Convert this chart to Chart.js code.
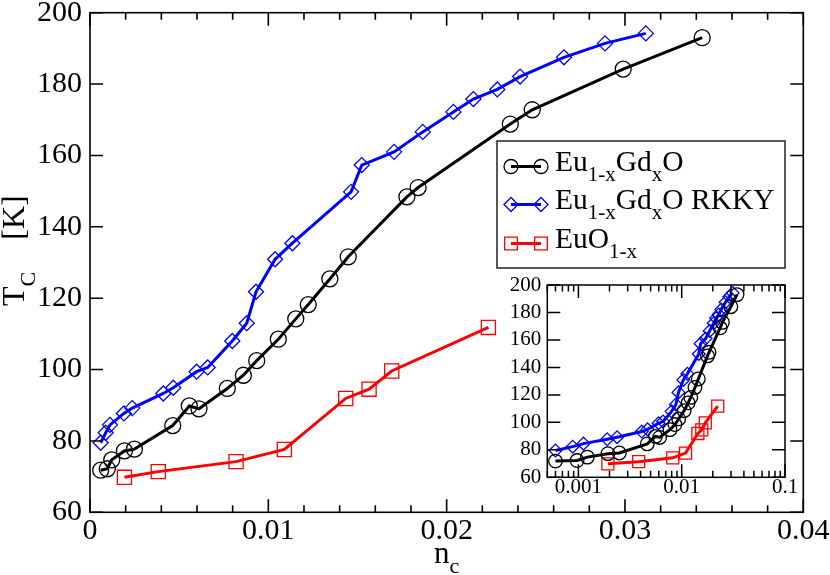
<!DOCTYPE html>
<html><head><meta charset="utf-8">
<script src="https://cdn.jsdelivr.net/npm/chart.js@4.4.1/dist/chart.umd.min.js"></script>
<style>
html,body{margin:0;padding:0;background:#fff;}
#wrap{position:relative;width:830px;height:575px;overflow:hidden;}
#main{position:absolute;left:0;top:0;}
#inset{position:absolute;left:500px;top:270px;}
</style></head><body>
<div id="wrap">
<canvas id="main" width="830" height="575"></canvas>
<canvas id="inset" width="300" height="232"></canvas>
</div>
<script>
// ---------- data ----------
const seriesNames = ['Eu_{1-x}Gd_{x}O', 'Eu_{1-x}Gd_{x}O RKKY', 'EuO_{1-x}'];

const gdN = [0.0006, 0.00097, 0.00122, 0.00193, 0.00249, 0.00464, 0.00557, 0.00611, 0.0077, 0.0086, 0.00935, 0.01056, 0.01154, 0.01224, 0.01345, 0.01448, 0.01777, 0.0184, 0.02357, 0.0248, 0.0299, 0.03433];
const gdT = [71.8, 72.2, 74.7, 77.2, 77.7, 84.3, 89.8, 89.0, 94.7, 98.4, 102.5, 108.5, 114.2, 118.2, 125.4, 131.6, 148.4, 151.0, 168.8, 172.8, 184.2, 193.0];

const rkkyN = [0.0006, 0.00088, 0.00112, 0.0019, 0.00237, 0.00411, 0.00467, 0.00598, 0.0066, 0.00798, 0.00879, 0.00931, 0.01038, 0.01135, 0.01464, 0.01524, 0.01705, 0.01866, 0.02038, 0.0215, 0.02284, 0.02412, 0.02658, 0.02888, 0.03117];
const rkkyT = [79.5, 82.3, 84.5, 87.7, 89.2, 93.3, 94.9, 99.4, 100.6, 108.0, 113.0, 121.8, 130.9, 135.4, 149.8, 157.3, 161.0, 166.6, 172.2, 175.8, 178.5, 182.1, 187.5, 191.4, 194.2];

const euoN = [0.00193, 0.00383, 0.00819, 0.0109, 0.01434, 0.01565, 0.01692, 0.02234];
const euoT = [69.8, 71.4, 74.2, 77.6, 91.9, 94.5, 99.6, 111.8];

const mainXTicks = [0, 0.01, 0.02, 0.03, 0.04];
const mainXLabels = ['0', '0.01', '0.02', '0.03', '0.04'];
const mainYTicks = [60, 80, 100, 120, 140, 160, 180, 200];
const mainYLabels = ['60', '80', '100', '120', '140', '160', '180', '200'];
const insetXTicks = [0.001, 0.01, 0.1];
const insetXLabels = ['0.001', '0.01', '0.1'];
const insetYTicks = [60, 80, 100, 120, 140, 160, 180, 200];
const insetYLabels = ['60', '80', '100', '120', '140', '160', '180', '200'];

const xTitle = 'n_{c}';
const yTitle = 'T_{C}    [K]';

// ---------- styles ----------
const FAM = "'Liberation Serif','Times New Roman',serif";
const colors = ['#000000', '#0000ff', '#ff0000'];
const styles = ['circle', 'rectRot', 'rect'];

function pts(xs, ys) { return xs.map((x, i) => ({x: x, y: ys[i]})); }

function makeDatasets(scale) {
  const radii = [8 * scale, 7.5 * scale, 10 * scale];
  const sets = [[gdN, gdT], [rkkyN, rkkyT], [euoN, euoT]];
  return sets.map((s, i) => ({
    label: seriesNames[i],
    data: pts(s[0], s[1]),
    borderColor: colors[i],
    borderWidth: 3,
    pointStyle: styles[i],
    pointRadius: radii[i],
    pointBorderWidth: 1.3,
    pointBorderColor: colors[i],
    pointBackgroundColor: 'rgba(0,0,0,0)',
    tension: 0,
    fill: false
  }));
}

function drawRich(ctx, str, x, y, size, subSize, subDrop, measureOnly) {
  const parts = [];
  const re = /_\{([^}]*)\}/g;
  let last = 0, m;
  while ((m = re.exec(str)) !== null) {
    if (m.index > last) parts.push([str.slice(last, m.index), false]);
    parts.push([m[1], true]);
    last = re.lastIndex;
  }
  if (last < str.length) parts.push([str.slice(last), false]);
  let cx = x;
  for (const [t, sub] of parts) {
    ctx.font = (sub ? subSize : size) + 'px ' + FAM;
    if (!measureOnly) ctx.fillText(t, cx, y + (sub ? subDrop : 0));
    cx += ctx.measureText(t).width;
  }
  return cx - x;
}

// frame + inward ticks plugin
const frameTicks = {
  id: 'frameTicks',
  afterDatasetsDraw(chart, args, opts) {
    const ctx = chart.ctx, a = chart.chartArea;
    const xs = chart.scales.x, ys = chart.scales.y;
    ctx.save();
    ctx.strokeStyle = '#000';
    ctx.lineWidth = opts.lw;
    ctx.beginPath();
    const tick = (vals, len, isX) => {
      for (const v of vals) {
        if (isX) {
          const p = xs.getPixelForValue(v);
          if (p < a.left - 0.5 || p > a.right + 0.5) continue;
          ctx.moveTo(p, a.bottom); ctx.lineTo(p, a.bottom - len);
          ctx.moveTo(p, a.top); ctx.lineTo(p, a.top + len);
        } else {
          const p = ys.getPixelForValue(v);
          ctx.moveTo(a.left, p); ctx.lineTo(a.left + len, p);
          ctx.moveTo(a.right, p); ctx.lineTo(a.right - len, p);
        }
      }
    };
    tick(opts.xMajor, opts.majorLen, true);
    tick(opts.xMinor, opts.minorLen, true);
    tick(opts.yMajor, opts.majorLen, false);
    tick(opts.yMinor, opts.minorLen, false);
    ctx.stroke();
    ctx.strokeRect(a.left, a.top, a.right - a.left, a.bottom - a.top);
    ctx.restore();
  }
};

// titles + legend plugin (main chart only)
const annot = {
  id: 'annot',
  afterDraw(chart) {
    const ctx = chart.ctx;
    ctx.save();
    ctx.fillStyle = '#000';
    ctx.textBaseline = 'alphabetic';
    ctx.textAlign = 'left';
    // x title
    const w = drawRich(ctx, xTitle, 0, 0, 31, 22, 10, true);
    const cx = (chart.chartArea.left + chart.chartArea.right) / 2;
    drawRich(ctx, xTitle, cx - w / 2, 563, 31, 22, 10);
    // y title rotated
    ctx.save();
    ctx.translate(24, 306);
    ctx.rotate(-Math.PI / 2);
    drawRich(ctx, yTitle, 0, 0, 32, 22, 11);
    ctx.restore();
    // legend
    const L = 497, T = 141, R = 785, B = 268;
    ctx.fillStyle = '#fff';
    ctx.fillRect(L, T, R - L, B - T);
    ctx.strokeStyle = '#222';
    ctx.lineWidth = 1.5;
    ctx.strokeRect(L, T, R - L, B - T);
    const rowY = [166.5, 204.5, 243.5];
    const radii = [7, 7, 9];
    chart.data.datasets.forEach((ds, i) => {
      const y = rowY[i];
      ctx.strokeStyle = colors[i];
      ctx.lineWidth = 3;
      ctx.beginPath(); ctx.moveTo(511, y); ctx.lineTo(541, y); ctx.stroke();
      ctx.lineWidth = 1.3;
      ctx.fillStyle = 'rgba(0,0,0,0)';
      for (const px of [511, 541]) {
        Chart.helpers.drawPoint(ctx, {pointStyle: styles[i], rotation: 0, radius: radii[i], borderWidth: 1.3}, px, y);
      }
      ctx.fillStyle = '#000';
      drawRich(ctx, ds.label, 555, y + 4, 29.5, 21, 10);
    });
    ctx.restore();
  }
};

function range(a, b, step, skip) {
  const out = [];
  for (let v = a; v <= b + 1e-9; v += step) {
    const r = Math.round(v / step) * step;
    if (!skip || !skip(r)) out.push(+r.toFixed(6));
  }
  return out;
}

Chart.defaults.font.family = FAM;
Chart.defaults.color = '#000';

const noGrid = {display: false, drawTicks: false, tickLength: 0};

// ---------- main chart ----------
new Chart(document.getElementById('main'), {
  type: 'line',
  data: {datasets: makeDatasets(1)},
  options: {
    responsive: false, animation: false, devicePixelRatio: 1,
    layout: {padding: {top: 12.7, right: 26.7, left: 0, bottom: 0}},
    plugins: {
      legend: {display: false}, tooltip: {enabled: false},
      frameTicks: {
        lw: 1.6, majorLen: 13, minorLen: 7,
        xMajor: mainXTicks, xMinor: range(0, 0.04, 0.002, v => Math.abs(v / 0.01 - Math.round(v / 0.01)) < 1e-6),
        yMajor: mainYTicks, yMinor: range(70, 190, 20)
      }
    },
    scales: {
      x: {
        type: 'linear', min: 0, max: 0.04,
        grid: noGrid, border: {display: false},
        afterBuildTicks: s => { s.ticks = mainXTicks.map(v => ({value: v})); },
        ticks: {font: {size: 30}, padding: 1, maxRotation: 0, autoSkip: false,
          callback: (v) => mainXLabels[mainXTicks.findIndex(t => Math.abs(t - v) < 1e-9)]},
        afterFit: s => { s.height = 62.7; s.paddingLeft = 0; s.paddingRight = 0; }
      },
      y: {
        type: 'linear', min: 60, max: 200,
        grid: noGrid, border: {display: false},
        afterBuildTicks: s => { s.ticks = mainYTicks.map(v => ({value: v})); },
        ticks: {font: {size: 30}, padding: 8, autoSkip: false,
          callback: (v) => mainYLabels[mainYTicks.indexOf(v)]},
        afterFit: s => { s.width = 90; s.paddingTop = 0; s.paddingBottom = 0; }
      }
    }
  },
  plugins: [frameTicks, annot]
});

// ---------- inset chart ----------
const insetMinor = [];
[0.0001, 0.001, 0.01].forEach(d => { for (let k = 2; k <= 9; k++) insetMinor.push(+(k * d).toPrecision(3)); });

new Chart(document.getElementById('inset'), {
  type: 'line',
  data: {datasets: makeDatasets(0.85)},
  options: {
    responsive: false, animation: false, devicePixelRatio: 1,
    layout: {padding: {top: 15, right: 15, left: 0, bottom: 0}},
    plugins: {
      legend: {display: false}, tooltip: {enabled: false},
      frameTicks: {
        lw: 1.5, majorLen: 13, minorLen: 6.5,
        xMajor: insetXTicks, xMinor: insetMinor,
        yMajor: insetYTicks, yMinor: range(70, 190, 20)
      }
    },
    scales: {
      x: {
        type: 'logarithmic', min: 0.0005, max: 0.1,
        grid: noGrid, border: {display: false},
        afterBuildTicks: s => { s.ticks = insetXTicks.map(v => ({value: v})); },
        ticks: {font: {size: 21}, padding: -2, maxRotation: 0, autoSkip: false,
          callback: (v) => insetXLabels[insetXTicks.findIndex(t => Math.abs(t - v) < 1e-12)]},
        afterFit: s => { s.height = 24.7; s.paddingLeft = 0; s.paddingRight = 0; }
      },
      y: {
        type: 'linear', min: 60, max: 200,
        grid: noGrid, border: {display: false},
        afterBuildTicks: s => { s.ticks = insetYTicks.map(v => ({value: v})); },
        ticks: {font: {size: 21}, padding: 6, autoSkip: false,
          callback: (v) => insetYLabels[insetYTicks.indexOf(v)]},
        afterFit: s => { s.width = 47.3; s.paddingTop = 0; s.paddingBottom = 0; }
      }
    }
  },
  plugins: [frameTicks]
});
</script>
</body></html>
